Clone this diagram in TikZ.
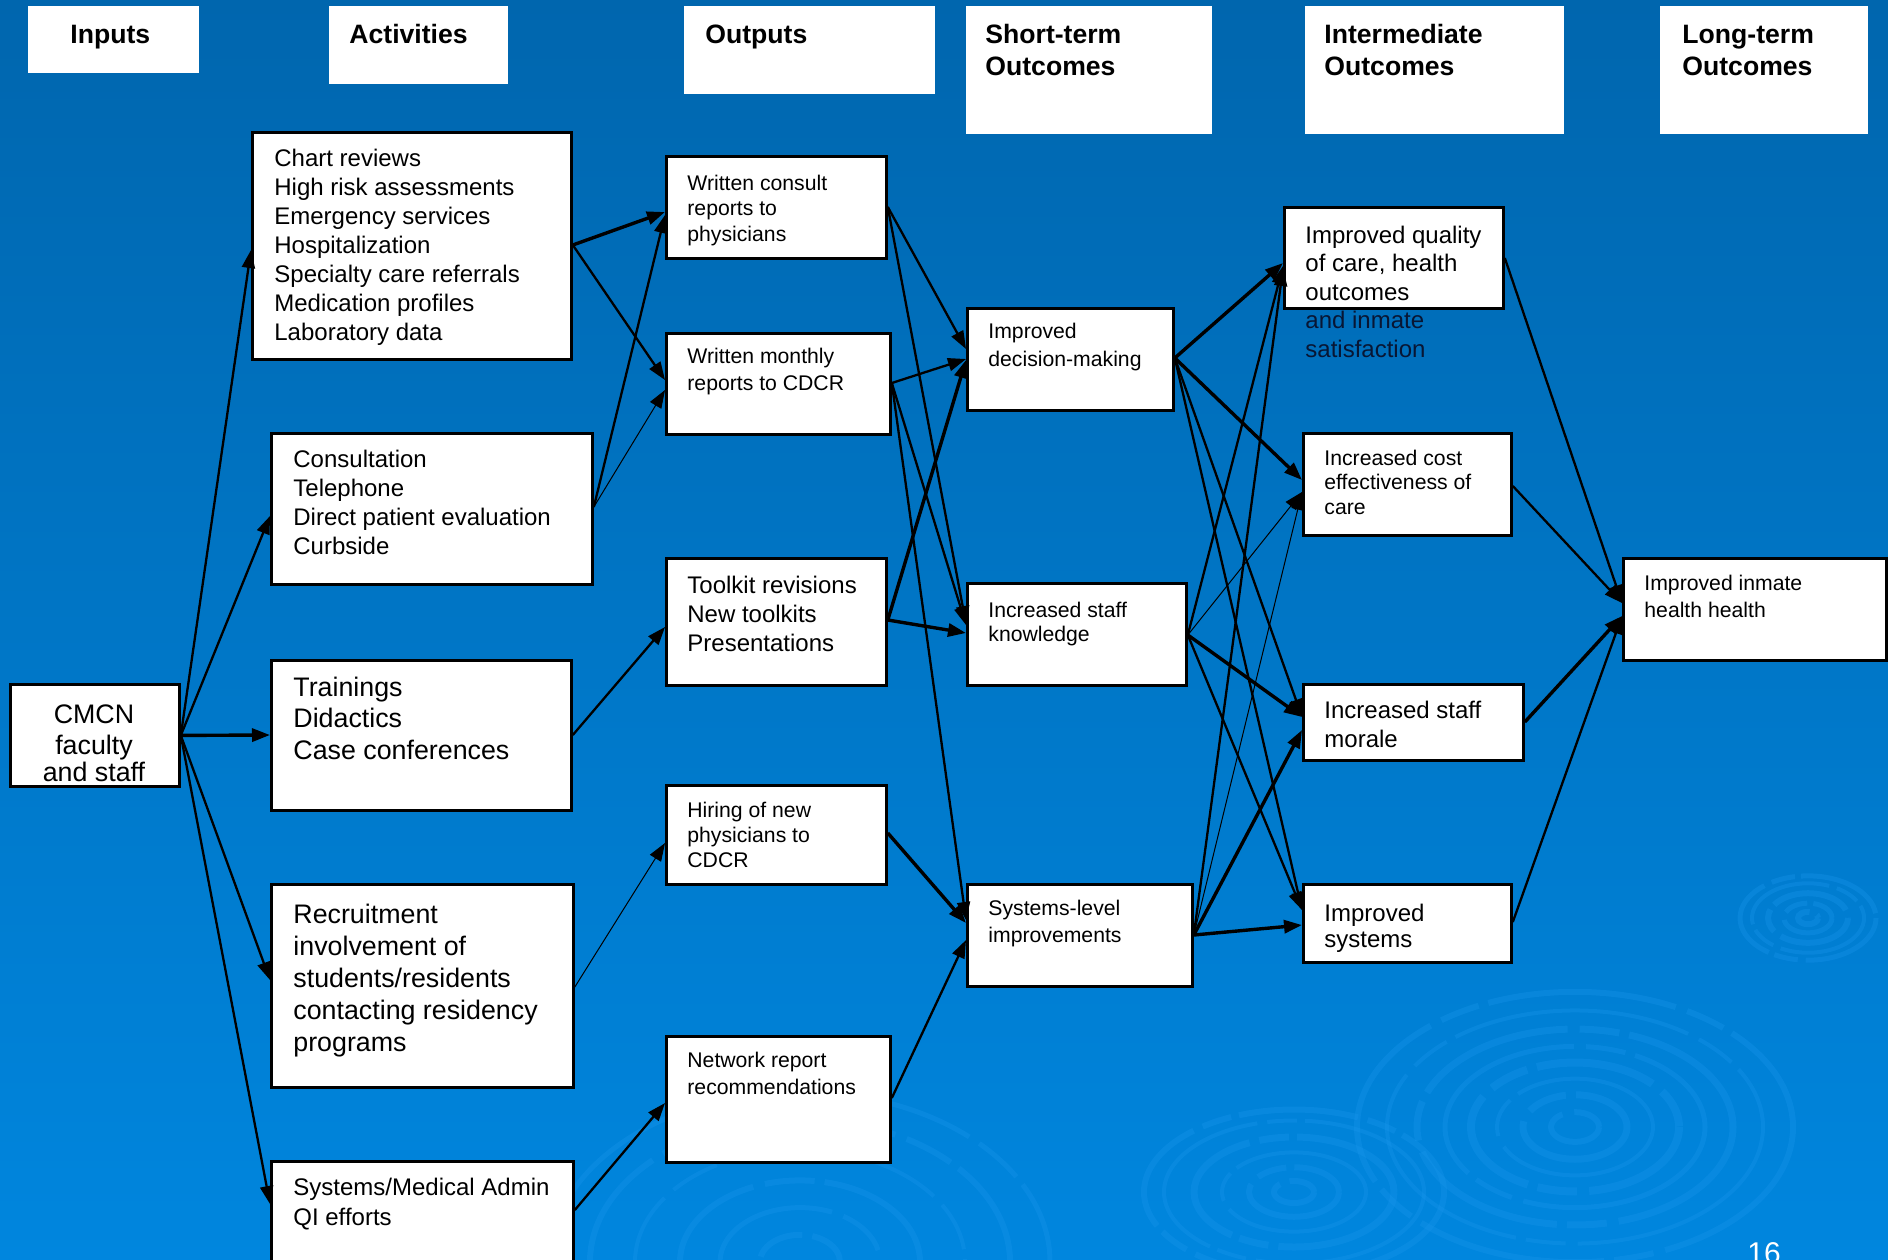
\documentclass[tikz,border=0pt]{standalone}
\usepackage{fontspec}
\setmainfont{Liberation Sans}
\usetikzlibrary{arrows.meta,calc}
\definecolor{bgtop}{RGB}{0,102,174}
\definecolor{bgmid}{RGB}{0,108,186}
\definecolor{bgbot}{RGB}{0,134,222}
\definecolor{ripple}{RGB}{25,150,236}
\definecolor{navytxt}{RGB}{8,22,52}
\newcommand\firstln{\rule{0pt}{0.8em}}
\newcommand\mkbox[5]{%
  \fill[white] (#2+3,#3+3) rectangle (#4+3,#5+3);
  \node[box, anchor=north west, minimum width={(#4-#2)*0.5pt}, minimum height={(#5-#3)*0.5pt}] (#1) at (#2,#3) {};}
\newcommand\mkhdr[5]{%
  \node[hdr, anchor=north west, minimum width={(#4-#2)*0.5pt}, minimum height={(#5-#3)*0.5pt}] (#1) at (#2,#3) {};}
\begin{document}
\begin{tikzpicture}[x=0.5pt,y=-0.5pt,
  hdr/.style={fill=white, draw=none, inner sep=0pt},
  box/.style={draw=black, fill=white, line width=1.4pt, inner sep=0pt},
  txt/.style={anchor=north west, inner sep=0pt, align=left},
  fhd/.style={font=\fontsize{13.3pt}{16pt}\selectfont\bfseries},
  con/.style={line width=1.15pt, -{Triangle[length=9pt,width=6.5pt]}},
  conthick/.style={con, line width=1.7pt},
  conthin/.style={con, line width=0.5pt},
  ring/.style={draw=ripple, opacity=0.32}
]
\useasboundingbox (0,0) rectangle (1888,1259);
\shade[top color=bgtop, middle color=bgmid, bottom color=bgbot] (0,0) rectangle (1888,1259);

% ripples
\foreach \r/\w/\d in {24/3pt/40pt,52/3.5pt/70pt,78/2pt/90pt,104/4pt/60pt,130/2.5pt/110pt,158/3.5pt/80pt,188/2pt/120pt,218/3pt/95pt}
  \draw[ring, line width=\w, dash pattern=on \d off 6pt on 20pt off 5pt] (1575,1127) ellipse[x radius=\r, y radius={\r*0.62}];
\foreach \r/\w/\d in {20/3pt/30pt,45/3pt/60pt,72/2pt/80pt,100/3.5pt/70pt,130/2pt/100pt,150/3pt/60pt}
  \draw[ring, line width=\w, dash pattern=on \d off 5pt on 15pt off 4pt] (1294,1192) ellipse[x radius=\r, y radius={\r*0.55}];
\foreach \r/\w/\d in {10/3pt/20pt,24/2.5pt/30pt,40/3pt/40pt,56/2pt/50pt,68/2.5pt/45pt}
  \draw[ring, line width=\w, dash pattern=on \d off 4pt on 12pt off 3pt] (1808,918) ellipse[x radius=\r, y radius={\r*0.62}];
\foreach \r/\w/\d in {40/3pt/50pt,80/2.5pt/70pt,120/3pt/90pt,165/2pt/110pt,210/3pt/90pt,250/2.5pt/120pt}
  \draw[ring, line width=\w, dash pattern=on \d off 6pt on 25pt off 5pt] (800,1262) ellipse[x radius=\r, y radius={\r*0.68}];

% header boxes
\mkhdr{hin}{28}{6}{199}{73}
\mkhdr{hact}{329}{6}{508}{84}
\mkhdr{hout}{684}{6}{935}{94}
\mkhdr{hst}{966}{6}{1212}{134}
\mkhdr{hint}{1305}{6}{1564}{134}
\mkhdr{hlt}{1660}{6}{1868}{134}
\node[txt, fhd] (hint-t) at (1324,21.7) {\firstln Intermediate\\Outcomes};
\node[txt, fhd] (hin-t) at (70,21.7) {\firstln Inputs};
\node[txt, fhd] (hact-t) at (349,21.7) {\firstln Activities};
\node[txt, fhd] (hout-t) at (705,21.7) {\firstln Outputs};
\node[txt, fhd] (hst-t) at (985,21.7) {\firstln Short-term\\Outcomes};
\node[txt, fhd] (hlt-t) at (1682,21.7) {\firstln Long-term\\Outcomes};

% boxes
\mkbox{cmcn}{9}{683}{178}{785}
\mkbox{act1}{251}{131}{570}{358}
\mkbox{act2}{270}{432}{591}{583}
\mkbox{act3}{270}{659}{570}{809}
\mkbox{act4}{270}{883}{572}{1086}
\mkbox{act5}{270}{1160}{572}{1290}
\mkbox{o1}{665}{155}{885}{257}
\mkbox{o2}{665}{332}{889}{433}
\mkbox{o3}{665}{557}{885}{684}
\mkbox{o4}{665}{784}{885}{883}
\mkbox{o5}{665}{1035}{889}{1161}
\mkbox{st1}{966}{307}{1172}{409}
\mkbox{st2}{966}{582}{1185}{684}
\mkbox{st3}{966}{883}{1191}{985}
\mkbox{i1}{1283}{206}{1502}{307}
\mkbox{i2}{1302}{432}{1510}{534}
\mkbox{i3}{1302}{683}{1522}{759}
\mkbox{i4}{1302}{883}{1510}{961}
\mkbox{l1}{1622}{557}{1885}{659}

% texts
\node[anchor=north, inner sep=0pt, align=center, font=\fontsize{13.4pt}{15.5pt}\selectfont] (cmcn-t) at (94,701.6) {\firstln CMCN\\faculty\\[-2pt]and staff};
\node[txt, font=\fontsize{12pt}{14.5pt}\selectfont] (act1-t) at (274,146.8) {\firstln Chart reviews\\High risk assessments\\Emergency services\\Hospitalization\\Specialty care referrals\\Medication profiles\\Laboratory data};
\node[txt, font=\fontsize{12pt}{14.5pt}\selectfont] (act2-t) at (293,447.8) {\firstln Consultation\\Telephone\\Direct patient evaluation\\Curbside};
\node[txt, font=\fontsize{13.4pt}{15.75pt}\selectfont] (act3-t) at (293,674.6) {\firstln Trainings\\Didactics\\Case conferences};
\node[txt, font=\fontsize{13.4pt}{16pt}\selectfont] (act4-t) at (293,901.6) {\firstln Recruitment\\involvement of\\students/residents\\contacting residency\\programs};
\node[txt, font=\fontsize{12pt}{15pt}\selectfont] (act5-t) at (293,1175.8) {\firstln Systems/Medical Admin\\QI efforts};
\node[txt, font=\fontsize{10.6pt}{12.75pt}\selectfont] (o1-t) at (687,173) {\firstln Written consult\\reports to\\physicians};
\node[txt, font=\fontsize{10.6pt}{13.5pt}\selectfont] (o2-t) at (687,346) {\firstln Written monthly\\reports to CDCR};
\node[txt, font=\fontsize{12pt}{14.5pt}\selectfont] (o3-t) at (687,573.8) {\firstln Toolkit revisions\\New toolkits\\Presentations};
\node[txt, font=\fontsize{10.6pt}{12.5pt}\selectfont] (o4-t) at (687,800) {\firstln Hiring of new\\physicians to\\CDCR};
\node[txt, font=\fontsize{10.6pt}{13.5pt}\selectfont] (o5-t) at (687,1050) {\firstln Network report\\recommendations};
\node[txt, font=\fontsize{10.6pt}{14pt}\selectfont] (st1-t) at (988,321) {\firstln Improved\\decision-making};
\node[txt, font=\fontsize{10.6pt}{12pt}\selectfont] (st2-t) at (988,600) {\firstln Increased staff\\knowledge};
\node[txt, font=\fontsize{10.6pt}{13.5pt}\selectfont] (st3-t) at (988,898) {\firstln Systems-level\\improvements};
\node[txt, font=\fontsize{12pt}{14.25pt}\selectfont] (i1-t) at (1305,223.8) {\firstln Improved quality\\of care, health\\outcomes\\\textcolor{navytxt}{and inmate}\\\textcolor{navytxt}{satisfaction}};
\node[txt, font=\fontsize{10.6pt}{12.25pt}\selectfont] (i2-t) at (1324,448) {\firstln Increased cost\\effectiveness of\\care};
\node[txt, font=\fontsize{12pt}{14.5pt}\selectfont] (i3-t) at (1324,698.8) {\firstln Increased staff\\morale};
\node[txt, font=\fontsize{12pt}{13pt}\selectfont] (i4-t) at (1324,901.8) {\firstln Improved\\systems};
\node[txt, font=\fontsize{10.6pt}{13.5pt}\selectfont] (l1-t) at (1644,573) {\firstln Improved inmate\\health health};
\node[txt, text=white, font=\fontsize{15pt}{18pt}\selectfont] (pnum) at (1747,1239.5) {\firstln 16};

% inputs -> activities
\draw[con] (cmcn.east) -- ($(act1.north west)+(0,119)$);
\draw[con] (cmcn.east) -- ($(act2.north west)+(0,84)$);
\draw[conthick] (cmcn.east) -- ($(act3.north west)+(0,76)$);
\draw[con] (cmcn.east) -- ($(act4.north west)+(0,97)$);
\draw[con] (cmcn.east) -- ($(act5.north west)+(0,44)$);

% activities -> outputs
\draw[conthick] ($(act1.north east)+(0,114)$) -- ($(o1.north west)+(0,57)$);
\draw[con] ($(act1.north east)+(0,114)$) -- ($(o2.north west)+(0,48)$);
\draw[con] ($(act2.north east)+(0,75)$) -- ($(o1.north west)+(0,60)$);
\draw[conthin] ($(act2.north east)+(0,75)$) -- ($(o2.north west)+(0,58)$);
\draw[con] ($(act3.north east)+(0,76)$) -- ($(o3.north west)+(0,70)$);
\draw[conthin] ($(act4.north east)+(0,104)$) -- ($(o4.north west)+(0,59)$);
\draw[con] ($(act5.north east)+(0,50)$) -- ($(o5.north west)+(0,68)$);

% outputs -> short-term
\draw[con] ($(o1.north east)+(0,52)$) -- ($(st1.north west)+(0,42)$);
\draw[con] ($(o1.north east)+(0,52)$) -- ($(st2.north west)+(0,42)$);
\draw[con] ($(o2.north east)+(0,51)$) -- ($(st1.north west)+(0,52)$);
\draw[con] ($(o2.north east)+(0,51)$) -- ($(st2.north west)+(0,43)$);
\draw[con] ($(o2.north east)+(0,51)$) -- ($(st3.north west)+(0,37)$);
\draw[conthick] ($(o3.north east)+(0,63)$) -- ($(st1.north west)+(0,53)$);
\draw[conthick] ($(o3.north east)+(0,63)$) -- ($(st2.north west)+(0,51)$);
\draw[conthick] ($(o4.north east)+(0,49)$) -- ($(st3.north west)+(0,40)$);
\draw[con] ($(o5.north east)+(0,63)$) -- ($(st3.north west)+(0,57)$);

% short-term -> intermediate
\draw[conthick] ($(st1.north east)+(0,51)$) -- ($(i1.north west)+(0,57)$);
\draw[conthick] ($(st1.north east)+(0,51)$) -- ($(i2.north west)+(0,48)$);
\draw[con] ($(st1.north east)+(0,51)$) -- ($(i3.north west)+(0,34)$);
\draw[con] ($(st1.north east)+(0,51)$) -- ($(i4.north west)+(0,27)$);
\draw[con] ($(st2.north east)+(0,53)$) -- ($(i1.north west)+(0,60)$);
\draw[conthin] ($(st2.north east)+(0,53)$) -- ($(i2.north west)+(0,60)$);
\draw[conthick] ($(st2.north east)+(0,53)$) -- ($(i3.north west)+(0,34)$);
\draw[con] ($(st2.north east)+(0,53)$) -- ($(i4.north west)+(0,27)$);
\draw[con] ($(st3.north east)+(0,52)$) -- ($(i1.north west)+(0,62)$);
\draw[conthin] ($(st3.north east)+(0,52)$) -- ($(i2.north west)+(0,60)$);
\draw[conthick] ($(st3.north east)+(0,52)$) -- ($(i3.north west)+(0,47)$);
\draw[conthick] ($(st3.north east)+(0,52)$) -- ($(i4.north west)+(0,42)$);

% intermediate -> long-term
\draw[con] ($(i1.north east)+(0,52)$) -- ($(l1.north west)+(0,46)$);
\draw[con] ($(i2.north east)+(0,54)$) -- ($(l1.north west)+(0,46)$);
\draw[conthick] ($(i3.north east)+(0,39)$) -- ($(l1.north west)+(0,59)$);
\draw[con] ($(i4.north east)+(0,39)$) -- ($(l1.north west)+(0,59)$);
\end{tikzpicture}
\end{document}
